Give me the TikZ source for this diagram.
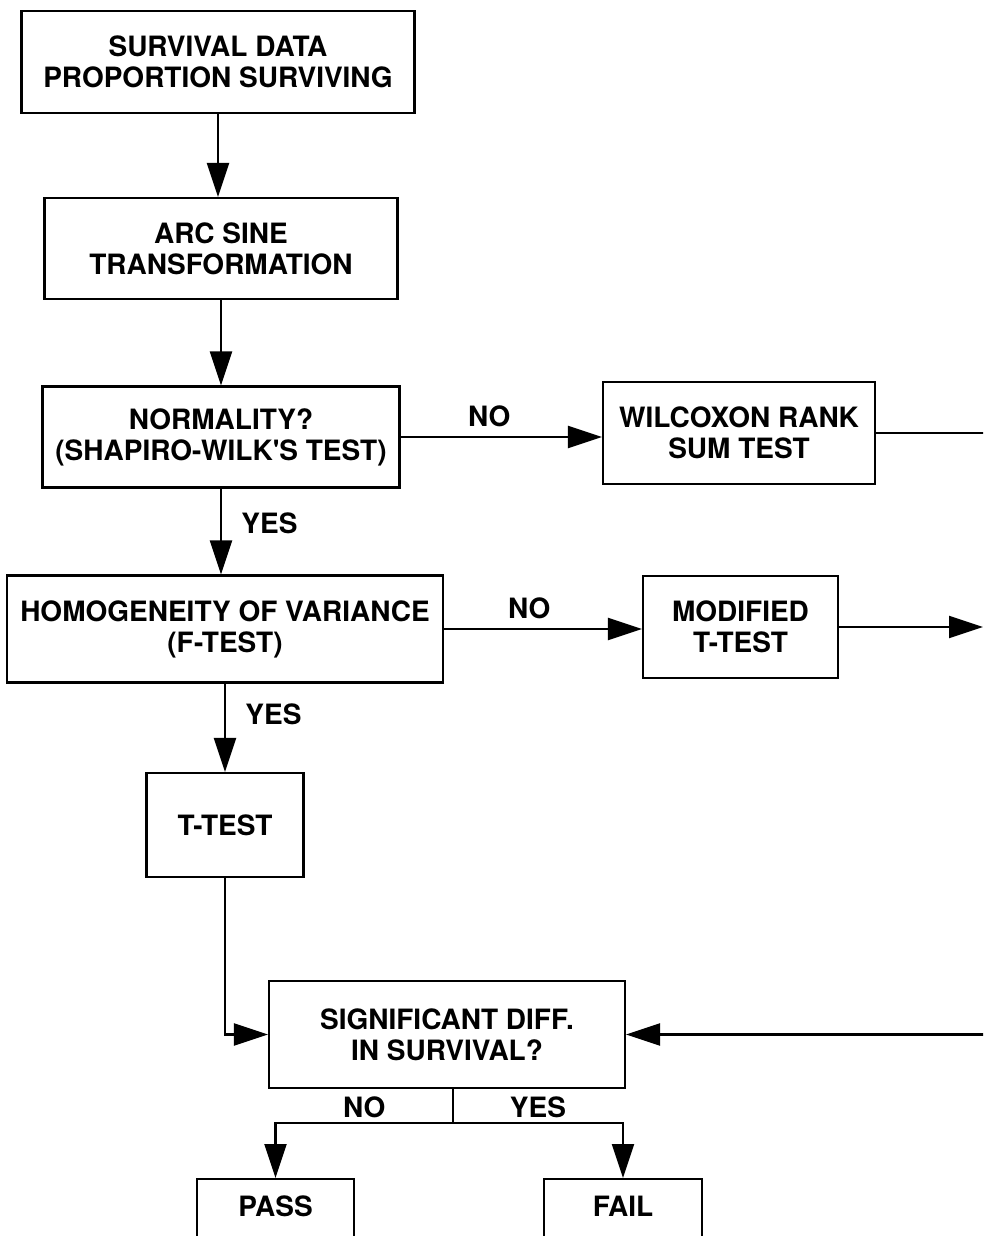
\documentclass[tikz,border=0pt]{standalone}
\usepackage{fontspec}
\setmainfont{TeX Gyre Heros}
\usetikzlibrary{arrows.meta,
positioning,
calc}

\begin{document}
\begin{tikzpicture} [x = 1pt, y = -1pt,
  ->,
  >={Triangle[width = 22pt, length = 34pt]},
  line width = 2.2pt,
  main node/.style={rectangle, draw, align = center, inner sep = 0pt,
      font = \fontsize{28}{31}\selectfont\bfseries},
  label node/.style={font = \fontsize{28}{31}\selectfont\bfseries}]

  \useasboundingbox (0,0) rectangle (983,1236);
  \clip (0,0) rectangle (983,1236);

  \node [main node,
    minimum width = 393pt,
    minimum height = 102pt
  ] (data) at (218, 62) {SURVIVAL DATA\\PROPORTION SURVIVING};

  \node [main node,
    minimum width = 353pt,
    minimum height = 101pt
  ] (arcsin) at (221, 248.5) {ARC SINE\\TRANSFORMATION};

  \node [main node,
    minimum width = 357pt,
    minimum height = 101pt
  ] (norm) at (221, 437) {NORMALITY?\\(SHAPIRO-WILK\textquotesingle S TEST)};

  \node [main node,
    minimum width = 272pt,
    minimum height = 102pt
  ] (wilcox) at (739, 433) {WILCOXON RANK\\SUM TEST};

  \node [main node,
    minimum width = 436pt,
    minimum height = 107pt
  ] (homog) at (225, 629) {HOMOGENEITY OF VARIANCE\\(F-TEST)};

  \node [main node,
    minimum width = 195pt,
    minimum height = 102pt
  ] (modif) at (740.5, 627) {MODIFIED\\T-TEST};

  \node [main node,
    minimum width = 157pt,
    minimum height = 104pt
  ] (ttest) at (225, 825) {T-TEST};

  \node [main node,
    minimum width = 356pt,
    minimum height = 107pt
  ] (sig) at (447, 1034.5) {SIGNIFICANT DIFF.\\IN SURVIVAL?};

  % result boxes run off the bottom of the page
  \node [main node,
    anchor = north,
    minimum width = 157pt,
    inner ysep = 17pt,
    text height = 20pt,
    text depth = 80pt
  ] (pass) at (275.5, 1178) {PASS};

  \node [main node,
    anchor = north,
    minimum width = 158pt,
    inner ysep = 17pt,
    text height = 20pt,
    text depth = 80pt
  ] (fail) at (623, 1178) {FAIL};

  \coordinate (wout) at (990, 433);
  \coordinate (mout) at (983, 627);
  \coordinate (sin) at (990, 1034.5);

  \draw (data.south) -- (data.south |- arcsin.north);
  \draw (arcsin.south) -- (arcsin.south |- norm.north);

  \draw (norm.south) -- (norm.south |- homog.north)
  node [label node, pos = .4, right = 16pt] () {YES};
  \draw (norm.east) -- (norm.east -| wilcox.west)
  node [label node, pos = .44, above = 6pt] () {NO};
  \draw [-] (wilcox.east) -- (wout);

  \draw (homog.south) -- (homog.south |- ttest.north)
  node [label node, pos = .35, right = 16pt] () {YES};
  \draw (homog.east) -- (homog.east -| modif.west)
  node [label node, pos = .43, above = 6pt] () {NO};
  \draw (modif.east) -- (mout);

  \draw (ttest.south) |- (sig.west);
  \draw (sin) -- (sig.east);

  \draw [-] ($(sig.south) + (6, 0)$) -- ++(0, 34) coordinate (split);
  \draw (split) -| (pass.north)
  node [label node, pos = .25, above = 1pt] () {NO};
  \draw (split) -| (fail.north)
  node [label node, pos = .25, above = 1pt] () {YES};

\end{tikzpicture}
\end{document}
